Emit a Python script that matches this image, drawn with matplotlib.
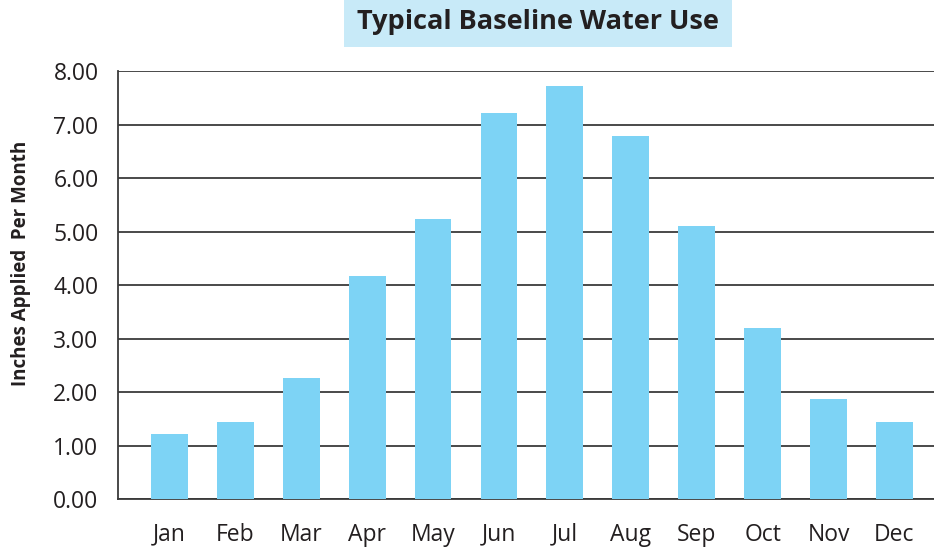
import matplotlib
matplotlib.use("Agg")
import matplotlib.pyplot as plt
from matplotlib.patches import Rectangle

months = ["Jan", "Feb", "Mar", "Apr", "May", "Jun",
          "Jul", "Aug", "Sep", "Oct", "Nov", "Dec"]
inches = [1.21, 1.44, 2.26, 4.17, 5.23, 7.21,
          7.72, 6.79, 5.10, 3.20, 1.87, 1.44]
yticks = [0, 1, 2, 3, 4, 5, 6, 7, 8]

plt.rcParams['font.family'] = ['Open Sans', 'DejaVu Sans']

fig = plt.figure(figsize=(9.34, 5.48), dpi=100)
ax = fig.add_axes([0.1263, 0.0894, 0.8737, 0.781])

x = range(len(months))
ax.bar(x, inches, width=0.56, color='#7DD3F5', zorder=3)

ax.set_ylim(0, 8)
ax.set_xlim(-0.78, 11.6)
ax.set_yticks(yticks)
ax.set_yticklabels([f"{v:.2f}" for v in yticks], fontsize=16.5, color='#231f20')
ax.set_xticks(list(x))
ax.set_xticklabels(months, fontsize=16.5, color='#231f20')
ax.tick_params(axis='both', length=0)
ax.tick_params(axis='y', pad=14)
ax.tick_params(axis='x', pad=17)

ax.yaxis.grid(True, color='#3a3a3a', linewidth=1.3, zorder=0)
ax.set_axisbelow(True)
for s in ['top', 'right']:
    ax.spines[s].set_visible(False)
for s in ['left', 'bottom']:
    ax.spines[s].set_color('#3a3a3a')
    ax.spines[s].set_linewidth(1.3)

fig.text(0.022, 0.52, "Inches Applied  Per Month", rotation=90,
         ha='center', va='center', fontsize=13.5, fontweight='bold', color='#231f20')

# title box
fig.add_artist(Rectangle((344 / 934, 1 - 47 / 548), 388 / 934, 47 / 548,
                         transform=fig.transFigure, facecolor='#C8EAF8',
                         edgecolor='none'))
fig.text(538 / 934, 1 - 22 / 548, "Typical Baseline Water Use",
         ha='center', va='center', fontsize=19.5, fontweight='bold', color='#231f20')

fig.savefig("out.png", dpi=100)
